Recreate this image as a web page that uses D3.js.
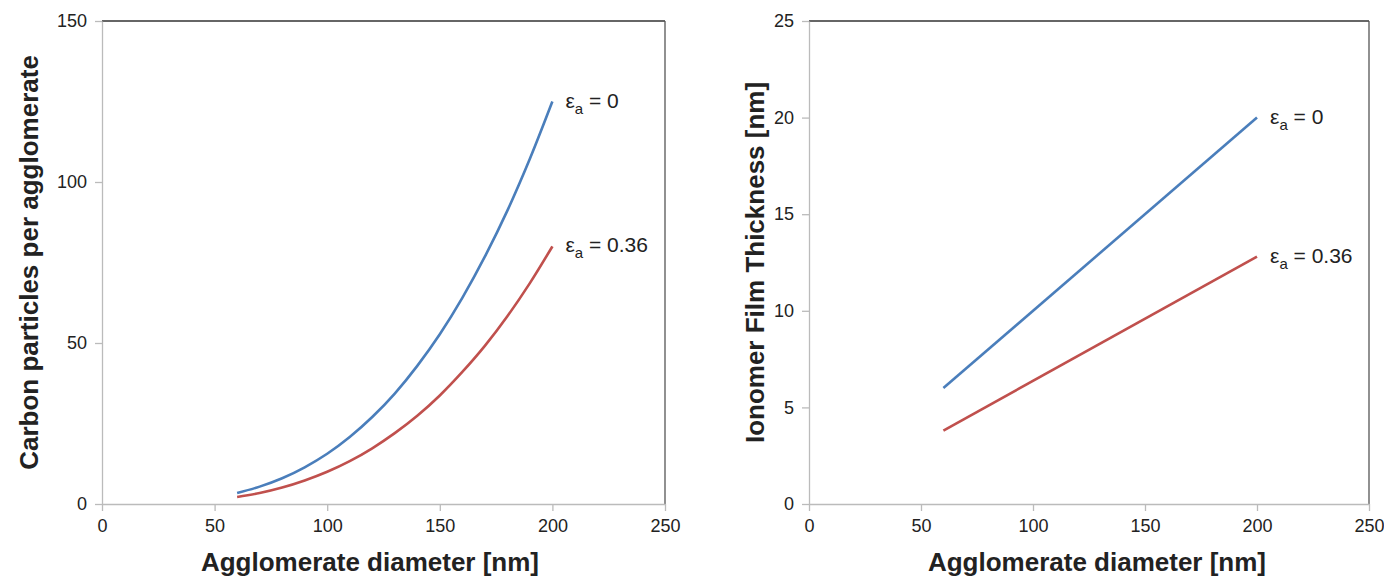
<!DOCTYPE html>
<html><head><meta charset="utf-8">
<script src="https://cdn.jsdelivr.net/npm/d3@7"></script>
<style>body{margin:0;background:#fff}svg{display:block}</style>
</head><body>
<svg id="c" width="1384" height="576"></svg>
<script>
const diam = [60,70,80,90,100,110,120,130,140,150,160,170,180,190,200];
const particlesEps0 = [3.4,5.4,8.0,11.4,15.6,20.8,27.0,34.3,42.9,52.7,64.0,76.8,91.1,107.2,125];
const particlesEps036 = [2.2,3.4,5.1,7.3,10.0,13.3,17.3,22.0,27.4,33.7,41.0,49.1,58.3,68.6,80];
const filmDiam = [60,200];
const filmEps0 = [6.0,20.0];
const filmEps036 = [3.8,12.8];
const xTicks = [0,50,100,150,200,250];
const yTicksLeft = [0,50,100,150];
const yTicksRight = [0,5,10,15,20,25];
const seriesLabels = ["0","0.36"];
const colors = ["#4A7EBB","#C0504D"];

const svg = d3.select("#c");
const font = "Liberation Sans, Arial, sans-serif";

function panel(opt){
  const g = svg.append("g");
  const x = d3.scaleLinear().domain([0,250]).range([opt.x0,opt.x1]);
  const y = d3.scaleLinear().domain([0,opt.ymax]).range([504,21]);
  g.append("line").attr("x1",x(0)).attr("x2",x(250)).attr("y1",y(opt.ymax)).attr("y2",y(opt.ymax)).attr("stroke","#333").attr("stroke-width",1.3);
  g.append("line").attr("x1",x(250)).attr("x2",x(250)).attr("y1",y(opt.ymax)).attr("y2",y(0)).attr("stroke","#555").attr("stroke-width",1.3);
  const xa = g.append("g").attr("transform",`translate(0,${y(0)})`)
    .call(d3.axisBottom(x).tickValues(xTicks).tickSize(7).tickPadding(8).tickSizeOuter(0));
  const ya = g.append("g").attr("transform",`translate(${x(0)},0)`)
    .call(d3.axisLeft(y).tickValues(opt.yTicks).tickSize(7).tickPadding(8).tickSizeOuter(0));
  [xa,ya].forEach(a=>{
    a.select(".domain").attr("stroke","#bbb").attr("stroke-width",1.3);
    a.selectAll(".tick line").attr("stroke","#bbb").attr("stroke-width",1.3);
    a.selectAll("text").attr("font-family",font).attr("font-size",18).attr("fill","#222");
  });
  const line = d3.line().x(d=>x(d[0])).y(d=>y(d[1])).curve(d3.curveMonotoneX);
  opt.series.forEach((s,i)=>{
    const pts = opt.xs.map((v,j)=>[v,s[j]]);
    g.append("path").attr("d",line(pts)).attr("fill","none").attr("stroke",colors[i]).attr("stroke-width",2.6);
    const last = pts[pts.length-1];
    const t = g.append("text").attr("x",x(last[0])+13).attr("y",y(last[1])+6)
      .attr("font-family",font).attr("font-size",21).attr("fill","#222");
    t.append("tspan").text("ε");
    t.append("tspan").attr("dy",6).attr("font-size",15).text("a");
    t.append("tspan").attr("dy",-6).text(" = "+seriesLabels[i]);
  });
  g.append("text").attr("x",opt.xtx).attr("y",571).attr("text-anchor","middle")
    .attr("font-family",font).attr("font-weight","bold").attr("font-size",26).attr("fill","#222")
    .text("Agglomerate diameter [nm]");
  g.append("text").attr("transform",`translate(${opt.ytx},${(y(0)+y(opt.ymax))/2}) rotate(-90)`)
    .attr("text-anchor","middle").attr("font-family",font).attr("font-weight","bold").attr("font-size",26).attr("fill","#222")
    .text(opt.ytitle);
}
panel({x0:102,x1:665,ymax:150,yTicks:yTicksLeft,xs:diam,series:[particlesEps0,particlesEps036],ytx:38,xtx:370,ytitle:"Carbon particles per agglomerate"});
panel({x0:809,x1:1369,ymax:25,yTicks:yTicksRight,xs:filmDiam,series:[filmEps0,filmEps036],ytx:764,xtx:1097,ytitle:"Ionomer Film Thickness [nm]"});
</script>
</body></html>
